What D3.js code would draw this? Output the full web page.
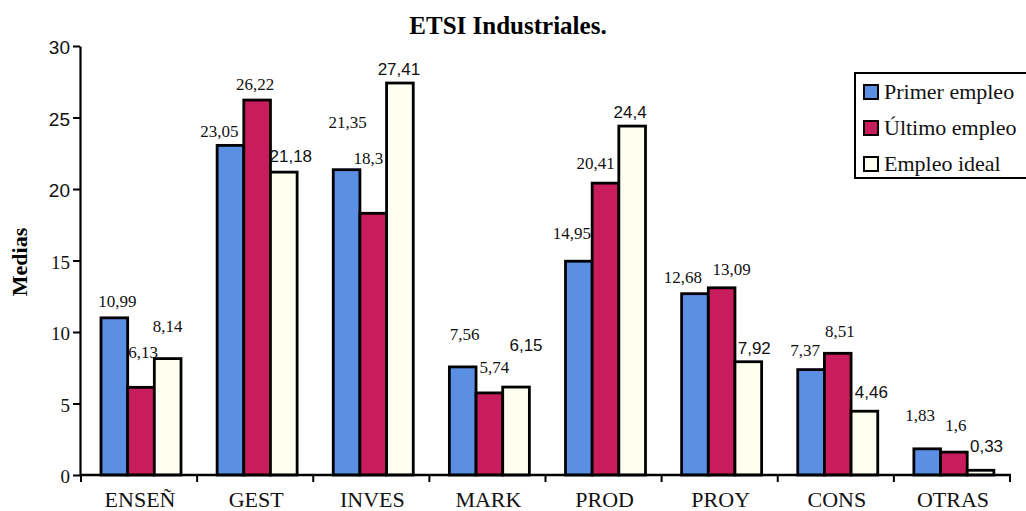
<!DOCTYPE html>
<html><head><meta charset="utf-8">
<script src="https://cdn.jsdelivr.net/npm/d3@7"></script>
<style>body{margin:0;background:#fff}svg{display:block}</style>
</head><body>
<svg id="c" width="1026" height="511"></svg>
<script>
const categories = ["ENSEÑ","GEST","INVES","MARK","PROD","PROY","CONS","OTRAS"];
const series = ["Primer empleo","Último empleo","Empleo ideal"];
const primer = [10.99,23.05,21.35,7.56,14.95,12.68,7.37,1.83];
const ultimo = [6.13,26.22,18.3,5.74,20.41,13.09,8.51,1.6];
const ideal  = [8.14,21.18,27.41,6.15,24.4,7.92,4.46,0.33];
const yTicks = [0,5,10,15,20,25,30];
const colors = ["#5a8fe3","#c91c5c","#fffff0"];
// label nudges (dx, dy of label centre from bar centre / bar top), per series, per category
const nudge = [
  [[3,-17],[-11,-14],[1,-48],[2,-33],[-7,-28],[-12,-17],[-6,-20],[-7,-34]],
  [[2,-35],[-2,-16],[-5,-55],[5,-26],[-10,-20],[10,-19],[2,-22],[2,-27]],
  [[0,-33],[7,-16],[-1,-14],[10,-42],[-2,-14],[6,-14],[7,-19],[6,-24]]
];
const values = [primer, ultimo, ideal];
const SERIF = "'Liberation Serif','Times New Roman',serif";
const SANS = "'Liberation Sans',Arial,sans-serif";

const svg = d3.select("#c");
const x0 = d3.scaleBand().domain(categories).range([81,1010]).padding(0);
const x1 = d3.scaleBand().domain(series).range([20,100]).padding(0);
const y = d3.scaleLinear().domain([0,30]).range([475,46]);

// title
svg.append("text").attr("x",508).attr("y",34).attr("text-anchor","middle")
  .style("font-family",SERIF).attr("font-weight","bold").attr("font-size",25)
  .text("ETSI Industriales.");
// y label
svg.append("text").attr("transform","translate(27,262) rotate(-90)").attr("text-anchor","middle")
  .style("font-family",SERIF).attr("font-weight","bold").attr("font-size",22).text("Medias");

// bars
const data = [];
categories.forEach((c,i)=>series.forEach((s,j)=>data.push({c,s,i,j,v:values[j][i]})));
const g = svg.append("g");
g.selectAll("rect").data(data).join("rect")
  .attr("x",d=>x0(d.c)+x1(d.s)).attr("width",x1.bandwidth())
  .attr("y",d=>y(d.v)).attr("height",d=>y(0)-y(d.v))
  .attr("fill",d=>colors[d.j]).attr("stroke","#000").attr("stroke-width",2.8);

// value labels
g.selectAll("text.v").data(data).join("text").attr("class","v")
  .attr("x",d=>x0(d.c)+x1(d.s)+x1.bandwidth()/2+nudge[d.j][d.i][0])
  .attr("y",d=>y(d.v)+nudge[d.j][d.i][1]+6)
  .attr("text-anchor","middle")
  .style("font-family",d=>d.j===2&&d.i!==0?SANS:SERIF)
  .attr("font-size",17).attr("fill","#111")
  .text(d=>String(d.v).replace(".",","));

// y axis
const yAxis = d3.axisLeft(y).tickValues(yTicks).tickSize(7).tickSizeOuter(0).tickPadding(3);
const ya = svg.append("g").attr("transform","translate(80,0)").call(yAxis);
ya.select(".domain").attr("stroke","#000").attr("stroke-width",2.2);
ya.selectAll(".tick line").attr("stroke","#000").attr("stroke-width",2);
ya.selectAll(".tick text").attr("font-size",19).attr("fill","#111")
  .style("font-family",d=>d>=20?SANS:SERIF).attr("dy","0.4em");

// x axis
const xa = svg.append("g").attr("transform","translate(0,475)");
xa.append("line").attr("x1",80).attr("x2",1011).attr("y1",0).attr("y2",0)
  .attr("stroke","#000").attr("stroke-width",2.5);
const bounds = categories.map(c=>x0(c)).concat([x0.range()[1]]);
xa.selectAll("line.t").data(bounds).join("line").attr("class","t")
  .attr("x1",d=>d).attr("x2",d=>d).attr("y1",0).attr("y2",7)
  .attr("stroke","#000").attr("stroke-width",2);
xa.selectAll("text").data(categories).join("text")
  .attr("x",d=>x0(d)+x0.bandwidth()/2+1).attr("y",32).attr("text-anchor","middle")
  .style("font-family",SERIF).attr("font-size",22).attr("fill","#111").text(d=>d);

// legend
const lg = svg.append("g");
lg.append("rect").attr("x",855).attr("y",73).attr("width",180).attr("height",105)
  .attr("fill","#fff").attr("stroke","#000").attr("stroke-width",2);
const rowsY = [92,128,164];
series.forEach((s,j)=>{
  lg.append("rect").attr("x",864).attr("y",rowsY[j]-7).attr("width",14).attr("height",14)
    .attr("fill",colors[j]).attr("stroke","#000").attr("stroke-width",2);
  lg.append("text").attr("x",884).attr("y",rowsY[j]+7).style("font-family",SERIF)
    .attr("font-size",22).attr("fill","#111").text(s);
});
</script>
</body></html>
